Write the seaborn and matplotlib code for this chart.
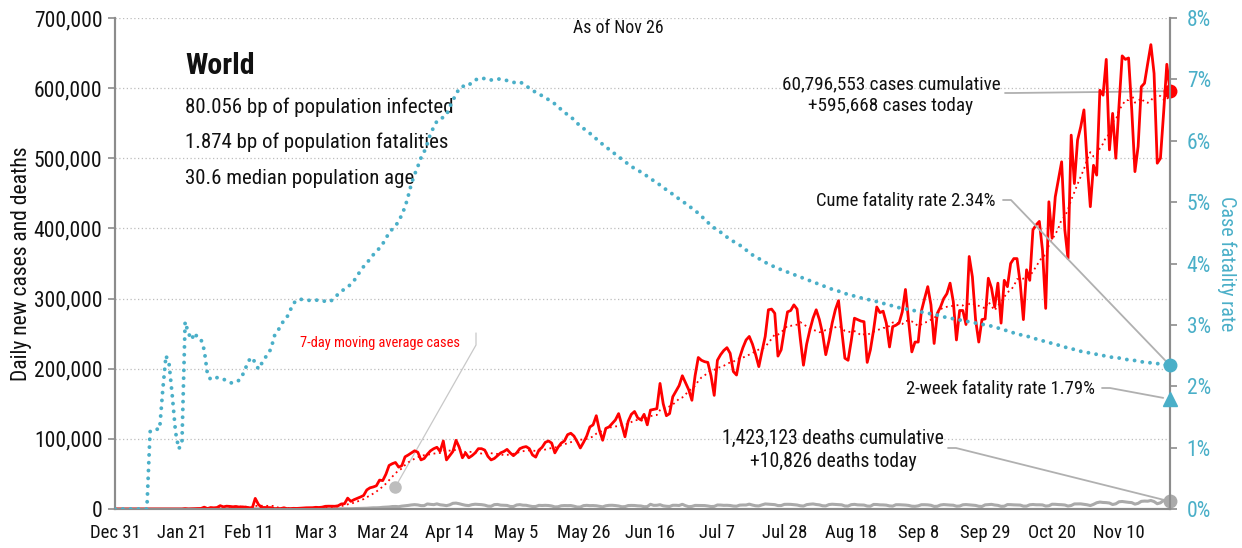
import numpy as np
import pandas as pd
import matplotlib
matplotlib.use("Agg")
import matplotlib.pyplot as plt
import seaborn as sns
from matplotlib import font_manager

# ---------------- data ----------------
# daily new cases, thousands
cases_dec = [0.0]
cases_jan = [0, 0, 0, 0, 0, 0, 0, 0, 0, 0, 0, 0, 0, 0, 0, 0, 0, 0, 0, 0, 0,
             0.56, 0.1, 0.29, 0.49, 0.68, 0.81, 2.65, 0.59, 2.07, 1.69]
cases_feb = [2.11, 4.75, 3.09, 4.01, 3.74, 3.16, 3.6, 2.73, 3.03, 2.61, 2.04, 0.42, 15.15, 6.52,
             2.15, 2.19, 2.03, 1.88, 0.5, 0.56, 0.62, 1.75, 0.46, 0.55, 0.96, 0.81, 1.13, 1.41, 1.72]
cases_mar = [1.83, 1.87, 2.4, 2.16, 2.67, 3.85, 4.02, 3.96, 3.9, 4.6, 7.2, 7.5, 15.5, 10.9, 13.3,
             15.2, 17.1, 19.3, 27.2, 30.2, 31.4, 33.1, 41.2, 40.5, 49.6, 62.1, 64.6, 66.3, 59.7, 61.8, 74.4]
cases_apr = [77, 80, 83, 81, 70, 72, 78, 83, 86, 88, 82, 97, 70, 76, 82, 98, 88, 73, 80, 73,
             76, 80, 86, 86, 84, 75, 70, 72, 76, 80]
cases_may = [82, 85, 80, 76, 80, 86, 88, 89, 86, 77, 74, 84, 88, 95, 97, 94, 80, 88, 94, 97,
             106, 108, 104, 96, 87, 95, 104, 117, 120, 133, 112]
cases_jun = [98, 115, 117, 122, 127, 136, 120, 103, 125, 135, 139, 130, 127, 135, 120, 141, 142, 143,
             179, 150, 133, 136, 160, 168, 176, 190, 180, 170, 155, 190]
cases_jul = [216, 212, 210, 209, 190, 162, 212, 220, 226, 230, 222, 196, 191, 216, 230, 241, 246, 235,
             220, 203, 225, 246, 284, 285, 279, 218, 227, 255, 281, 283, 291]
cases_aug = [285, 243, 205, 235, 255, 272, 284, 270, 250, 220, 240, 265, 284, 297, 255, 215, 212, 240,
             272, 270, 268, 267, 209, 227, 255, 288, 280, 282, 265, 231, 260]
cases_sep = [262, 265, 281, 313, 267, 224, 238, 238, 282, 300, 317, 291, 236, 279, 288, 300, 307, 322,
             296, 241, 283, 283, 263, 360, 331, 270, 238, 270, 271, 329]
cases_oct = [315, 288, 322, 265, 326, 317, 350, 357, 357, 322, 270, 341, 326, 398, 405, 410, 369, 286,
             438, 386, 445, 470, 495, 398, 357, 533, 464, 526, 545, 569, 493]
cases_nov = [431, 490, 476, 597, 590, 641, 512, 564, 500, 575, 646, 641, 643, 569, 481, 517, 602, 607,
             635, 662, 621, 493, 500, 565, 634, 595.668]

# daily new deaths, thousands
deaths_dec = [0.0]
deaths_jan = [0] * 21 + [0.017, 0.001, 0.008, 0.016, 0.014, 0.026, 0.049, 0.002, 0.038, 0.042]
deaths_feb = [0.046, 0.103, 0.064, 0.066, 0.072, 0.07, 0.085, 0.087, 0.1, 0.107, 0.1, 0.005, 0.253,
              0.152, 0.143, 0.142, 0.106, 0.098, 0.139, 0.115, 0.125, 0.098, 0.153, 0.071, 0.079,
              0.07, 0.056, 0.064, 0.07]
deaths_mar = [0.07, 0.08, 0.1, 0.1, 0.1, 0.1, 0.1, 0.23, 0.2, 0.27, 0.3, 0.35, 0.44, 0.4, 0.6, 0.7,
              0.85, 0.98, 1.1, 1.4, 1.7, 1.7, 1.9, 2.4, 2.7, 2.9, 3.5, 3.6, 3.3, 4.1, 4.6]
deaths_apr = [5.1, 5.8, 6.2, 5.8, 4.8, 4.8, 7.2, 6.6, 6.2, 7.3, 6.0, 5.5, 4.8, 5.9, 8.1, 8.4, 7.5,
              6.3, 5.3, 4.9, 6.2, 6.8, 6.5, 6.2, 5.5, 4.1, 3.9, 6.2, 6.5, 5.5]
deaths_may = [5.3, 5.1, 3.6, 3.5, 5.7, 6.2, 5.4, 5.3, 4.3, 3.5, 3.6, 5.2, 5.0, 5.2, 5.0, 4.3, 3.0,
              3.2, 4.6, 4.9, 4.8, 4.9, 4.0, 2.8, 2.8, 4.8, 5.2, 4.8, 4.9, 4.6, 3.8]
deaths_jun = [3.1, 4.6, 5.2, 5.3, 4.9, 4.3, 3.2, 3.4, 4.9, 5.1, 5.0, 4.5, 4.3, 3.3, 3.4, 6.7, 5.2,
              5.3, 6.1, 4.5, 3.9, 3.6, 5.3, 5.3, 5.0, 6.7, 4.7, 3.3, 3.7, 5.1]
deaths_jul = [5.0, 5.0, 4.9, 4.3, 3.5, 3.7, 5.7, 5.6, 5.2, 5.3, 5.0, 4.2, 4.0, 5.5, 5.7, 5.7, 6.9,
              5.6, 4.6, 4.4, 5.9, 7.2, 6.9, 6.5, 6.2, 4.9, 4.9, 6.6, 6.7, 6.6, 6.1]
deaths_aug = [5.7, 4.6, 4.2, 6.2, 6.8, 7.2, 6.4, 5.9, 4.6, 4.4, 6.3, 6.8, 6.5, 6.3, 5.9, 4.3, 4.2,
              6.2, 6.6, 5.9, 5.8, 5.6, 4.2, 4.0, 6.5, 6.4, 5.9, 5.8, 5.5, 4.4, 4.1]
deaths_sep = [6.1, 6.1, 5.9, 5.6, 5.1, 4.0, 3.8, 4.5, 6.1, 6.1, 5.9, 5.3, 3.7, 3.9, 5.7, 6.3, 5.9,
              5.6, 5.4, 4.0, 4.2, 6.0, 6.3, 5.9, 5.6, 5.1, 3.9, 3.6, 5.9, 6.2]
deaths_oct = [6.6, 5.7, 5.2, 3.8, 4.0, 6.3, 6.2, 5.9, 5.8, 5.6, 4.1, 4.1, 6.0, 6.4, 6.0, 6.0, 5.8,
              4.2, 4.6, 6.8, 6.7, 6.3, 6.1, 5.7, 4.2, 5.0, 7.2, 7.3, 7.3, 6.6, 6.0]
deaths_nov = [4.9, 6.6, 8.9, 9.9, 9.3, 9.1, 8.5, 6.4, 7.4, 10.3, 10.7, 10.1, 9.5, 9.1, 6.9, 8.1,
              10.9, 11.3, 11.1, 12.1, 10.6, 7.5, 8.8, 12.3, 12.2, 10.826]

# cumulative case fatality rate, percent
cfr_dec = [0.0]
cfr_jan = [0, 0, 0, 0, 0, 0, 0, 0, 0, 0, 1.26, 1.3, 1.3, 1.3, 1.95, 2.5, 2.35, 1.83, 1.25, 0.98,
           1.07, 3.05, 2.87, 2.76, 2.87, 2.78, 2.76, 2.59, 2.2, 2.11, 2.13]
cfr_feb = [2.14, 2.14, 2.12, 2.08, 2.06, 2.05, 2.07, 2.1, 2.18, 2.3, 2.42, 2.47, 2.38, 2.28, 2.37,
           2.46, 2.52, 2.62, 2.82, 2.9, 2.98, 3.08, 3.13, 3.24, 3.35, 3.4, 3.42, 3.41, 3.4]
cfr_mar = [3.4, 3.39, 3.4, 3.41, 3.4, 3.38, 3.37, 3.4, 3.45, 3.5, 3.55, 3.58, 3.62, 3.66, 3.72, 3.8,
           3.88, 3.95, 4.0, 4.08, 4.14, 4.2, 4.25, 4.32, 4.41, 4.5, 4.56, 4.62, 4.68, 4.8, 4.92]
cfr_apr = [5.1, 5.3, 5.45, 5.58, 5.72, 5.82, 5.95, 6.12, 6.22, 6.32, 6.36, 6.38, 6.42, 6.55, 6.65,
           6.77, 6.84, 6.89, 6.88, 6.9, 6.96, 6.99, 7.01, 7.0, 7.02, 7.01, 6.99, 7.0, 7.01, 7.0]
cfr_may = [7.0, 6.98, 6.96, 6.95, 6.95, 6.96, 6.93, 6.89, 6.86, 6.82, 6.79, 6.77, 6.73, 6.7, 6.67,
           6.64, 6.6, 6.55, 6.51, 6.47, 6.42, 6.39, 6.34, 6.29, 6.23, 6.2, 6.16, 6.12, 6.08, 6.03, 5.99]
cfr_jun = [5.94, 5.9, 5.86, 5.82, 5.78, 5.74, 5.7, 5.66, 5.62, 5.58, 5.55, 5.52, 5.49, 5.46, 5.42,
           5.38, 5.35, 5.31, 5.28, 5.24, 5.2, 5.16, 5.13, 5.09, 5.05, 5.01, 4.98, 4.94, 4.9, 4.86]
cfr_jul = [4.82, 4.77, 4.72, 4.67, 4.62, 4.58, 4.55, 4.51, 4.47, 4.43, 4.39, 4.36, 4.33, 4.3, 4.26,
           4.22, 4.18, 4.14, 4.11, 4.08, 4.05, 4.02, 3.99, 3.97, 3.94, 3.92, 3.9, 3.88, 3.86, 3.84, 3.82]
cfr_aug = [3.8, 3.78, 3.76, 3.74, 3.72, 3.7, 3.68, 3.66, 3.64, 3.62, 3.6, 3.58, 3.56, 3.55, 3.53,
           3.51, 3.5, 3.48, 3.47, 3.46, 3.44, 3.43, 3.42, 3.4, 3.39, 3.38, 3.36, 3.35, 3.34, 3.32, 3.31]
cfr_sep = [3.29, 3.28, 3.27, 3.26, 3.25, 3.24, 3.23, 3.22, 3.21, 3.2, 3.19, 3.18, 3.17, 3.16, 3.14,
           3.13, 3.12, 3.11, 3.1, 3.09, 3.08, 3.07, 3.06, 3.05, 3.04, 3.03, 3.02, 3.01, 3.0, 2.99]
cfr_oct = [2.98, 2.96, 2.95, 2.93, 2.92, 2.9, 2.88, 2.87, 2.85, 2.84, 2.83, 2.82, 2.8, 2.79, 2.77,
           2.76, 2.74, 2.73, 2.71, 2.7, 2.68, 2.67, 2.65, 2.64, 2.62, 2.61, 2.6, 2.58, 2.57, 2.56, 2.55]
cfr_nov = [2.54, 2.53, 2.52, 2.51, 2.5, 2.49, 2.48, 2.47, 2.46, 2.46, 2.45, 2.44, 2.43, 2.42, 2.42,
           2.41, 2.4, 2.39, 2.39, 2.38, 2.37, 2.37, 2.36, 2.35, 2.35, 2.34]

two_week_cfr = 1.79
cum_cases_text = "60,796,553 cases cumulative\n+595,668 cases today"
cum_deaths_text = "1,423,123 deaths cumulative\n+10,826 deaths today"
cume_rate_text = "Cume fatality rate 2.34%"
two_week_text = "2-week fatality rate 1.79%"
info_lines = ["80.056 bp of population infected",
              "1.874 bp of population fatalities",
              "30.6 median population age"]
left_ticks = [0, 100000, 200000, 300000, 400000, 500000, 600000, 700000]
right_ticks = [0, 1, 2, 3, 4, 5, 6, 7, 8]

# ---------------- assemble ----------------
def cat(parts):
    return np.concatenate([np.asarray(p, dtype=float) for p in parts])

cases = cat([cases_dec, cases_jan, cases_feb, cases_mar, cases_apr, cases_may, cases_jun,
             cases_jul, cases_aug, cases_sep, cases_oct, cases_nov]) * 1000
deaths = cat([deaths_dec, deaths_jan, deaths_feb, deaths_mar, deaths_apr, deaths_may, deaths_jun,
              deaths_jul, deaths_aug, deaths_sep, deaths_oct, deaths_nov]) * 1000
cfr = cat([cfr_dec, cfr_jan, cfr_feb, cfr_mar, cfr_apr, cfr_may, cfr_jun, cfr_jul, cfr_aug,
           cfr_sep, cfr_oct, cfr_nov])
dates = pd.date_range("2019-12-31", "2020-11-26", freq="D")
assert len(cases) == len(dates) == len(deaths) == len(cfr), (len(cases), len(deaths), len(cfr), len(dates))

df = pd.DataFrame({"date": dates, "cases": cases, "deaths": deaths, "cfr": cfr})
df["ma7"] = df["cases"].rolling(7, min_periods=1).mean()

# ---------------- style ----------------
sns.set_theme(style="white")
avail = {f.name for f in font_manager.fontManager.ttflist}
fam = None
for cand in ["Liberation Sans Narrow", "Roboto Condensed", "Open Sans Condensed", "Liberation Sans"]:
    if cand in avail:
        fam = cand
        break
plt.rcParams["font.family"] = [fam, "DejaVu Sans"] if fam else ["DejaVu Sans"]

RED = "#ff0000"
TEAL = "#4aafc8"
GRAY = "#aaaaaa"
SPINE = "#8c8c8c"
TXT = "#111111"

fig = plt.figure(figsize=(12.42, 5.48), dpi=100)
ax = fig.add_axes([115 / 1242, 1 - 509 / 548, (1170 - 115) / 1242, (509 - 18) / 548])
ax2 = ax.twinx()

# deaths
sns.lineplot(data=df, x="date", y="deaths", ax=ax, color=GRAY, lw=2.2, zorder=3)
# moving average (dotted)
sns.lineplot(data=df, x="date", y="ma7", ax=ax, color=RED, lw=1.3, zorder=4)
ax.lines[-1].set_linestyle((0, (1, 2)))
# daily cases
sns.lineplot(data=df, x="date", y="cases", ax=ax, color=RED, lw=2.0, zorder=5)

# CFR on right axis
sns.lineplot(data=df, x="date", y="cfr", ax=ax2, color=TEAL, lw=2.8, zorder=6)
l = ax2.lines[-1]
l.set_linestyle((0, (0.01, 2.0)))
l.set_dash_capstyle("round")

last = df.iloc[-1]
ax.plot([last["date"]], [last["cases"]], "o", color=RED, ms=9, clip_on=False, zorder=10)
ax.plot([last["date"]], [last["deaths"]], "o", color=GRAY, ms=9, clip_on=False, zorder=10)
ax2.plot([last["date"]], [last["cfr"]], "o", color=TEAL, ms=9, clip_on=False, zorder=10)
ax2.plot([last["date"]], [two_week_cfr], "^", color=TEAL, ms=10, clip_on=False, zorder=10)

# axes limits
ax.set_xlim(dates[0], dates[-1])
ax.set_ylim(0, 700000)
ax2.set_ylim(0, 8)

xt = pd.date_range(dates[0], periods=16, freq="21D")
ax.set_xticks(xt)
ax.set_xticklabels([f"{d:%b} {d.day}" for d in xt])
ax.set_yticks(left_ticks)
ax.set_yticklabels([f"{v:,}" for v in left_ticks])
ax2.set_yticks(right_ticks)
ax2.set_yticklabels([f"{v}%" for v in right_ticks])

ax.set_xlabel("")
ax.set_ylabel("Daily new cases and deaths", fontsize=15.5, color=TXT, labelpad=1.5)
ax2.set_ylabel("Case fatality rate", fontsize=14.5, color=TEAL, rotation=270, labelpad=18)

ax.yaxis.grid(True, linestyle=(0, (1, 2)), color="#bdbdbd", lw=0.9)
ax.set_axisbelow(True)
ax2.grid(False)

for a in (ax, ax2):
    a.spines["top"].set_visible(False)
    for s in ("left", "right", "bottom"):
        a.spines[s].set_color(SPINE)
        a.spines[s].set_linewidth(1.5)
ax.tick_params(axis="x", direction="out", length=6, width=1.2, color=SPINE, labelsize=13.5,
               labelcolor=TXT, pad=5)
ax.tick_params(axis="y", direction="out", length=5, width=1.2, color=SPINE, labelsize=15.5,
               labelcolor=TXT, pad=4, left=True)
ax2.tick_params(axis="y", direction="out", length=5, width=1.2, color=SPINE, labelsize=15.5,
                labelcolor=TEAL, pad=7, right=True)

# ---------------- text ----------------
def fx(px):
    return (px - 115) / 1055


def fy(py):
    return (509 - py) / 491


ax.text(fx(185), fy(66), "World", transform=ax.transAxes, fontsize=21.5, weight="bold",
        color=TXT, va="center", ha="left")
for i, line in enumerate(info_lines):
    ax.text(fx(185), fy(107 + 35.5 * i), line, transform=ax.transAxes, fontsize=15,
            color=TXT, va="center", ha="left")
ax.text(fx(618), fy(28), "As of Nov 26", transform=ax.transAxes, fontsize=12.8,
        color=TXT, va="center", ha="center")

ax.text(fx(460), fy(343), "7-day moving average cases", transform=ax.transAxes, fontsize=10.4,
        color=RED, va="center", ha="right")
ma_anchor = df.loc[df["date"] == pd.Timestamp("2020-03-28")]
ma_pt = (ma_anchor["date"].iloc[0], ma_anchor["ma7"].iloc[0] * 0.62)
ax.plot([ma_pt[0]], [ma_pt[1]], "o", color="#bdbdbd", ms=8, zorder=9)
ax.annotate("", xy=ma_pt, xycoords="data", xytext=(fx(476), fy(333)), textcoords="axes fraction",
            arrowprops=dict(arrowstyle="-", color="#c8c8c8", lw=0.9, shrinkA=0, shrinkB=4,
                            connectionstyle="arc,angleA=-90,armA=12,angleB=0,armB=0,rad=0"))

lead = dict(arrowstyle="-", color="#b0b0b0", lw=1.3, shrinkA=0, shrinkB=5,
            connectionstyle="arc,angleA=0,armA=8,angleB=0,armB=0,rad=0")

ax.text(fx(891), fy(95), cum_cases_text, transform=ax.transAxes, fontsize=13.8,
        color=TXT, va="center", ha="center", linespacing=1.3)
ax.annotate("", xy=(last["date"], last["cases"]), xycoords="data",
            xytext=(fx(1005), fy(93)), textcoords="axes fraction", arrowprops=lead)

ax.text(fx(996), fy(201), cume_rate_text, transform=ax.transAxes, fontsize=13.4,
        color=TXT, va="center", ha="right")
ax2.annotate("", xy=(last["date"], last["cfr"]), xycoords="data",
             xytext=(fx(1003), fy(200)), textcoords="axes fraction", arrowprops=lead)

ax.text(fx(1095), fy(389), two_week_text, transform=ax.transAxes, fontsize=13.4,
        color=TXT, va="center", ha="right")
ax2.annotate("", xy=(last["date"], two_week_cfr), xycoords="data",
             xytext=(fx(1102), fy(388)), textcoords="axes fraction", arrowprops=lead)

ax.text(fx(833), fy(450), cum_deaths_text, transform=ax.transAxes, fontsize=14.1,
        color=TXT, va="center", ha="center", linespacing=1.3)
ax.annotate("", xy=(last["date"], last["deaths"]), xycoords="data",
            xytext=(fx(948), fy(448)), textcoords="axes fraction", arrowprops=lead)

fig.savefig("out.png", dpi=100)
